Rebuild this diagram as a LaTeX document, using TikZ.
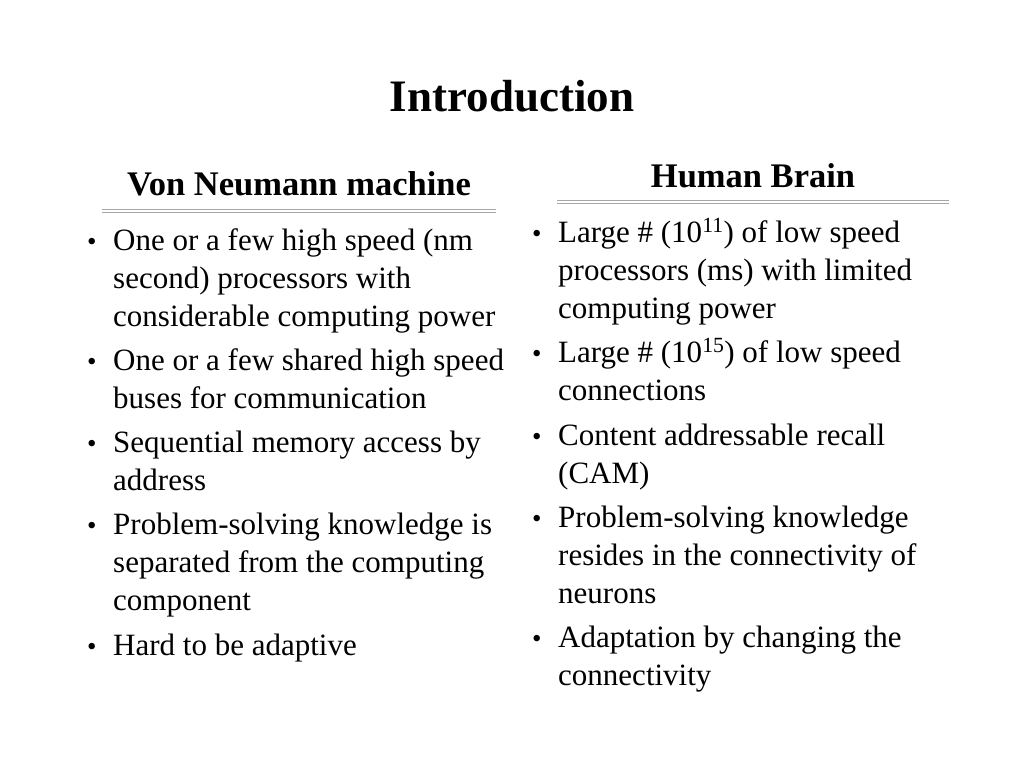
\documentclass[tikz,border=0pt]{standalone}
\usepackage{fontspec}
\setmainfont{Liberation Serif}
\tikzset{
  bodytext/.style={anchor=base west, inner sep=0pt, align=left, font=\fontsize{31}{38}\selectfont},
  dot/.style={anchor=base west, inner sep=0pt, font=\fontsize{27}{38}\selectfont},
  headtext/.style={inner sep=0pt, font=\fontsize{34.5}{40}\selectfont\bfseries},
  rule/.style={draw=gray!70, line width=0.8pt}
}
\begin{document}
\begin{tikzpicture}[x=1pt,y=-1pt]
  \useasboundingbox (0,0) rectangle (1024,768);
  \node[headtext, font=\fontsize{45}{52}\selectfont\bfseries, anchor=base] (title) at (512,111) {Introduction};
  \node[headtext, anchor=base] (vn) at (299,195) {Von Neumann machine};
  \node[headtext, anchor=base] (hb) at (753,187) {Human Brain};
  \draw[rule] (102,209) -- (496,209) (102,212) -- (496,212);
  \draw[rule] (557,200) -- (949,200) (557,203) -- (949,203);

  % left column
  \foreach \y in {250,370,452,534,655}
    \node[dot] at (87,\y) {•};
  \node[bodytext] (l1) at (113,250) {One or a few high speed (nm};
  \node[bodytext] at (113,288) {second) processors with};
  \node[bodytext] at (113,326) {considerable computing power};
  \node[bodytext] (l2) at (113,370) {One or a few shared high speed};
  \node[bodytext] at (113,408) {buses for communication};
  \node[bodytext] (l3) at (113,452) {Sequential memory access by};
  \node[bodytext] at (113,490) {address};
  \node[bodytext] (l4) at (113,534) {Problem-solving knowledge is};
  \node[bodytext] at (113,572) {separated from the computing};
  \node[bodytext] at (113,610) {component};
  \node[bodytext] (l5) at (113,655) {Hard to be adaptive};

  % right column
  \foreach \y in {242,362,445,527,647}
    \node[dot] at (532,\y) {•};
  \node[bodytext] (r1) at (558,242) {Large \# (10\textsuperscript{11}) of low speed};
  \node[bodytext] at (558,280) {processors (ms) with limited};
  \node[bodytext] at (558,318) {computing power};
  \node[bodytext] (r2) at (558,362) {Large \# (10\textsuperscript{15}) of low speed};
  \node[bodytext] at (558,400) {connections};
  \node[bodytext] (r3) at (558,445) {Content addressable recall};
  \node[bodytext] at (558,483) {(CAM)};
  \node[bodytext] (r4) at (558,527) {Problem-solving knowledge};
  \node[bodytext] at (558,565) {resides in the connectivity of};
  \node[bodytext] at (558,603) {neurons};
  \node[bodytext] (r5) at (558,647) {Adaptation by changing the};
  \node[bodytext] at (558,685) {connectivity};
\end{tikzpicture}
\end{document}
